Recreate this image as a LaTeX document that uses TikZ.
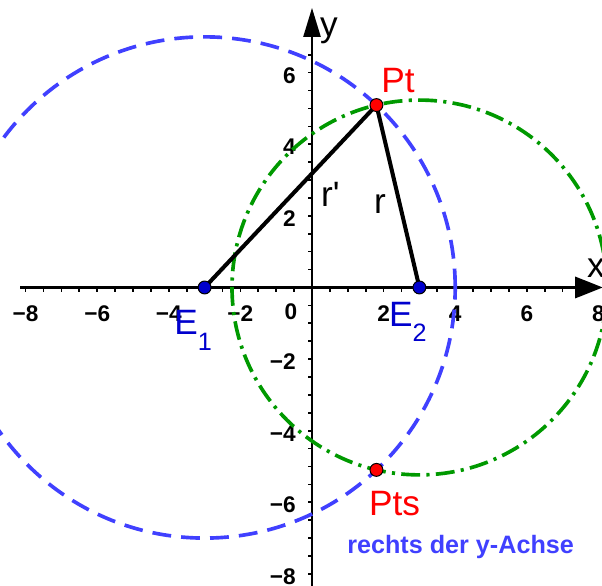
\documentclass[tikz,border=0pt]{standalone}
\usepackage{fontspec}
\setmainfont{Liberation Sans}
\usetikzlibrary{arrows.meta}
\definecolor{ggblue}{RGB}{64,64,255}
\definecolor{ggdarkblue}{RGB}{0,0,205}
\definecolor{gggreen}{RGB}{0,153,0}
\definecolor{ggred}{RGB}{255,0,0}

\begin{document}
\begin{tikzpicture}[
  every node/.style={inner sep=0pt},
  axis/.style={line width=1.8pt},
  tickmark/.style={line width=1.3pt},
  ticklabel/.style={font=\bfseries\fontsize{18}{18}\selectfont},
  biglabel/.style={font=\fontsize{28}{28}\selectfont, anchor=base west},
  punkt/.style={circle, draw=black, line width=0.8pt, minimum size=0.36cm},
  segment/.style={line width=3.2pt, line cap=round},
]
\useasboundingbox (-8.715,-8.338) rectangle (8.10,8.03);
\clip (-8.715,-8.338) rectangle (8.10,8.03);

% Points
\coordinate (E1) at (-3,0);
\coordinate (E2) at (3,0);
\coordinate (Pt) at (1.8,5.095);
\coordinate (Pts) at (1.8,-5.095);

% Axes
\coordinate (xstart) at (-8.15,0);
\coordinate (xend) at (8.12,0);
\coordinate (ystart) at (0,-8.6);
\coordinate (yend) at (0,7.81);
\draw[axis, -{Triangle[length=22pt,width=17pt]}] (xstart) -- (xend);
\draw[axis, -{Triangle[length=23pt,width=13.5pt]}] (ystart) -- (yend);
\foreach \x in {-8,-7.5,...,7} \draw[tickmark] (\x,0) -- (\x,-0.12);
\foreach \y in {-8,-7.5,...,6.5} \draw[tickmark] (0,\y) -- (-0.12,\y);

% Tick labels
\foreach \x/\t [count=\i] in {-8/−8,-6/−6,-4/−4,-2/−2,2/2,4/4,6/6,8/8}
  \node[ticklabel] (xl\i) at (\x,-0.72) {\t};
\node[ticklabel] (xl0) at (-0.59,-0.67) {0};
\foreach \y/\t [count=\i] in {-8/−8,-6/−6,-4/−4,-2/−2,2/2,4/4,6/6}
  \node[ticklabel, anchor=east] (yl\i) at (-0.45,\y-0.08) {\t};
\node[biglabel] (xlabel) at (7.68,0.29) {x};
\node[biglabel] (ylabel) at (0.22,7.02) {y};

% Circles
\draw[ggblue, line width=2.9pt, dash pattern=on 15pt off 8pt] (E1) circle (7);
\draw[gggreen, line width=2.9pt, dash pattern=on 15pt off 5pt on 2.5pt off 5pt] (E2) circle (5.2345);

% Radii
\draw[segment] (E1) -- (Pt) -- (E2);
\node[biglabel] (rs) at (0.25,2.25) {r\textquotesingle};
\node[biglabel] (r) at (1.73,2.08) {r};

% Dots
\node[punkt, fill=ggdarkblue] (E1dot) at (E1) {};
\node[punkt, fill=ggdarkblue] (E2dot) at (E2) {};
\node[punkt, fill=ggred] (Ptdot) at (Pt) {};
\node[punkt, fill=ggred] (Ptsdot) at (Pts) {};

% Labels
\node[biglabel, text=ggdarkblue] (E1lbl) at (-3.85,-1.30) {E\raisebox{-0.45cm}{\fontsize{20}{20}\selectfont 1}};
\node[biglabel, text=ggdarkblue] (E2lbl) at (2.15,-1.10) {E\raisebox{-0.42cm}{\fontsize{20}{20}\selectfont 2}};
\node[biglabel, text=ggred] (Ptlbl) at (1.93,5.46) {Pt};
\node[biglabel, text=ggred] (Ptslbl) at (1.59,-6.38) {Pts};
\node[font=\bfseries\fontsize{20}{20}\selectfont, text=ggblue, anchor=base west] (note) at (0.98,-7.42) {rechts der y-Achse};

\end{tikzpicture}
\end{document}
